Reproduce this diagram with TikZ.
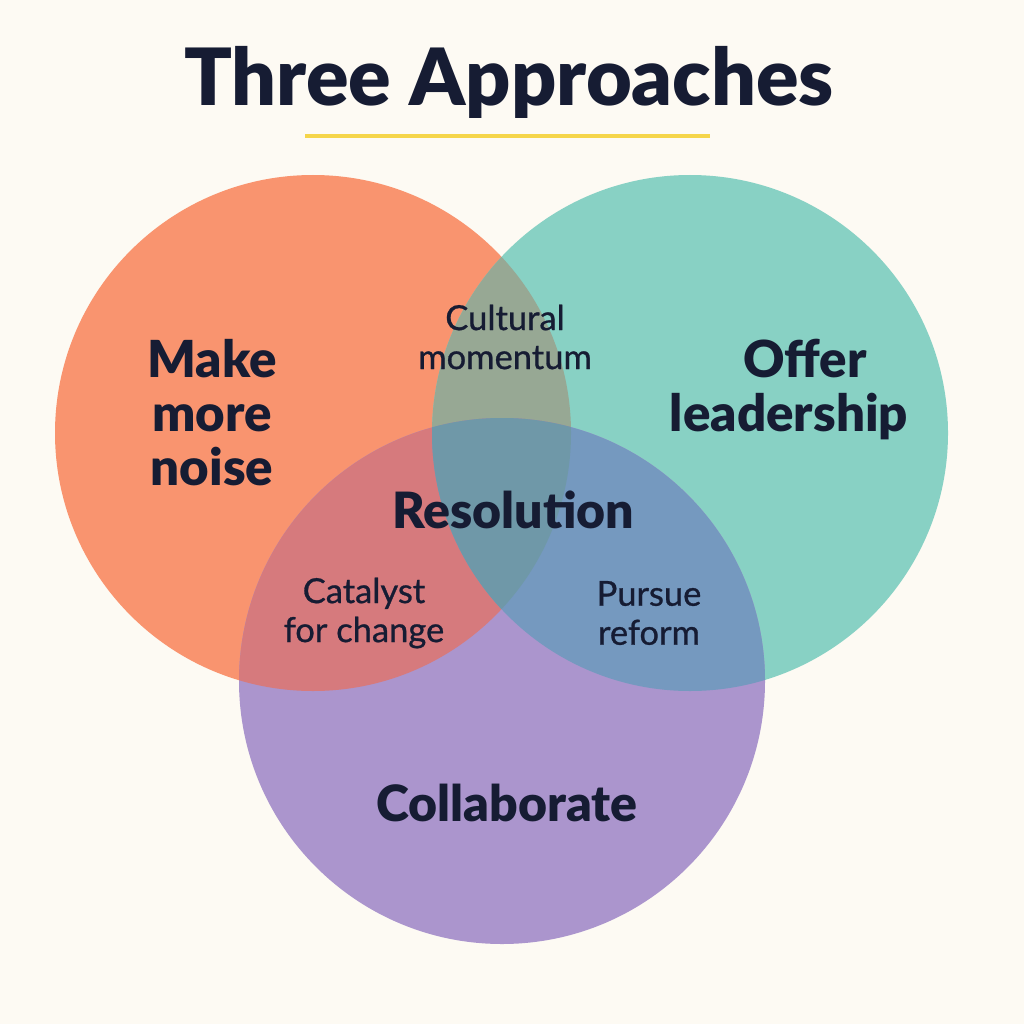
\documentclass[tikz,border=0pt]{standalone}
\usepackage{fontspec}
\setmainfont{Lato}
\newfontfamily\blackfont{Lato Black}
\newfontfamily\medfont{Lato}[FakeBold=0.8]
\definecolor{bg}{HTML}{FDFAF3}
\definecolor{ink}{HTML}{161C33}
\definecolor{corange}{HTML}{F9946F}
\definecolor{cteal}{HTML}{88D1C4}
\definecolor{cpurple}{HTML}{AB95CD}
\definecolor{cot}{HTML}{97A894}
\definecolor{cop}{HTML}{D67A7D}
\definecolor{ctp}{HTML}{7599BF}
\definecolor{call}{HTML}{6F98A8}
\definecolor{gold}{HTML}{F5D54A}
\tikzset{
  big/.style={text=ink,font=\fontsize{51}{54}\selectfont\blackfont,align=center},
  small/.style={text=ink,font=\fontsize{34.5}{39}\selectfont\medfont,align=center},
  mid/.style={text=ink,font=\fontsize{50}{50}\selectfont\blackfont,align=center}
}
\begin{document}
\begin{tikzpicture}[x=1pt,y=-1pt]
\fill[bg] (0,0) rectangle (1024,1024);
\useasboundingbox (0,0) rectangle (1024,1024);
\def\CO{(313,433) circle (258)}
\def\CT{(690,433) circle (258)}
\def\CP{(502,681) circle (263)}
\fill[corange] \CO;
\fill[cteal] \CT;
\fill[cpurple] \CP;
\begin{scope}\clip \CO; \fill[cot] \CT; \end{scope}
\begin{scope}\clip \CO; \fill[cop] \CP; \end{scope}
\begin{scope}\clip \CT; \fill[ctp] \CP; \end{scope}
\begin{scope}\clip \CO; \clip \CT; \fill[call] \CP; \end{scope}
\node[text=ink,font=\fontsize{79}{79}\selectfont\blackfont] (title) at (509,82) {Three Approaches};
\coordinate (ul) at (305,136);
\coordinate (ur) at (710,136);
\draw[gold,line width=4pt] (ul) -- (ur);
\node[big] (noise) at (212,413) {Make\\more\\noise};
\node[big] (lead) at (789,390) {\hspace*{32pt}Offer\\leadership};
\node[small] (cult) at (505,337) {Cultural\\momentum};
\node[mid] (res) at (513,510) {Resolution};
\node[small] (cat) at (364,613) {Catalyst\\for change};
\node[small] (pur) at (649,613) {Pursue\\reform};
\node[mid] (col) at (507,803) {Collaborate};
\end{tikzpicture}
\end{document}
